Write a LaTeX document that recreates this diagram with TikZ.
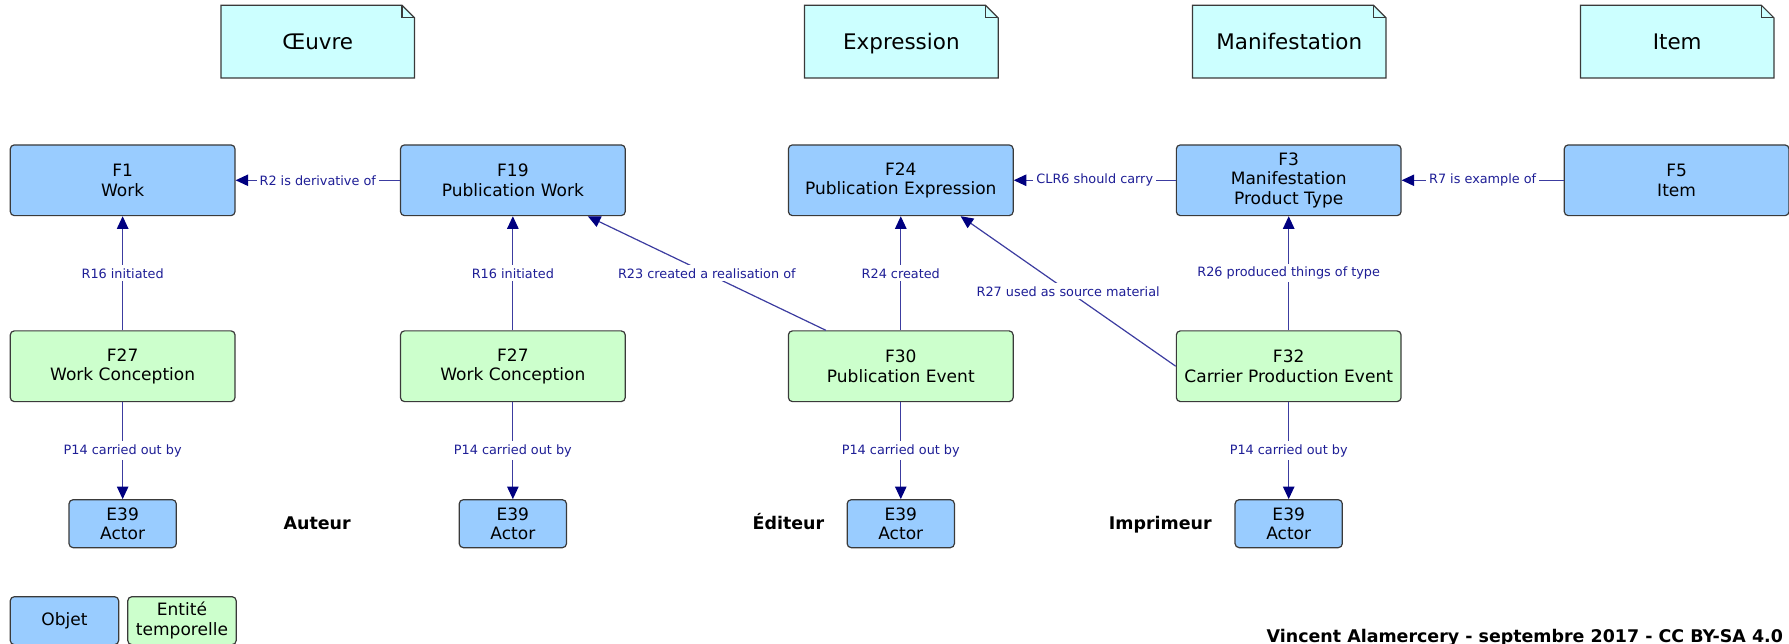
\documentclass[tikz,border=0pt]{standalone}
\usepackage{fontspec}
\setmainfont{DejaVu Sans}
\usetikzlibrary{arrows.meta,backgrounds}

\definecolor{objfill}{HTML}{99CCFF}
\definecolor{evtfill}{HTML}{CCFFCC}
\definecolor{notefill}{HTML}{CCFFFF}
\definecolor{boxline}{HTML}{3A3A3A}
\definecolor{linkline}{HTML}{3C3CA0}
\definecolor{linktip}{HTML}{000080}
\definecolor{linktext}{HTML}{1E1E96}

\tikzset{
  objbox/.style={draw=boxline, fill=objfill, rounded corners=2pt, line width=0.6pt,
    minimum width=3.94cm, minimum height=1.24cm, inner sep=0pt, align=center,
    font=\fontsize{8.5}{9.7}\selectfont},
  evtbox/.style={objbox, fill=evtfill},
  actorbox/.style={objbox, minimum width=1.88cm, minimum height=0.84cm},
  notebox/.style={minimum width=3.38cm, minimum height=1.26cm, inner sep=0pt,
    text height=0.85em, text depth=0.1em, font=\fontsize{10.7}{12}\selectfont},
  rolelabel/.style={inner sep=0pt, font=\bfseries\fontsize{8.7}{10}\selectfont},
  link/.style={draw=linkline, line width=0.6pt,
    -{Triangle[length=0.22cm,width=0.2cm,color=linktip]}},
  linklabel/.style={fill=white, text=linktext, inner sep=1.5pt,
    font=\fontsize{6.4}{7.5}\selectfont}
}

\begin{document}
\begin{tikzpicture}[x=0.02cm,y=-0.02cm]
  \useasboundingbox (0,0) rectangle (1568,564);

  % notes (groupes)
  \foreach \name/\cx/\txt in {oeuvre/278.5/Œuvre, expr/790/Expression, manif/1130/Manifestation, item/1470/Item}
  {
    \node[notebox] (\name) at (\cx,36.5) {\txt};
    \begin{scope}[on background layer]
      \filldraw[draw=boxline, fill=notefill, line width=0.6pt]
        (\name.north west) -- ([xshift=-0.22cm]\name.north east)
        -- ([yshift=-0.22cm]\name.north east) -- (\name.south east)
        -- (\name.south west) -- cycle;
      \draw[draw=boxline, line width=0.6pt]
        ([xshift=-0.22cm]\name.north east) -- ([xshift=-0.22cm,yshift=-0.22cm]\name.north east)
        -- ([yshift=-0.22cm]\name.north east);
    \end{scope}
  }

  % objets
  \node[objbox] (f1) at (107.5,158) {F1\\Work};
  \node[objbox] (f19) at (449.5,158) {F19\\Publication Work};
  \node[objbox] (f24) at (789.5,158) {F24\\Publication Expression};
  \node[objbox] (f3) at (1129.5,158) {F3\\Manifestation\\Product Type};
  \node[objbox] (f5) at (1469.5,158) {F5\\Item};

  % evenements
  \node[evtbox] (f27a) at (107.5,321) {F27\\Work Conception};
  \node[evtbox] (f27b) at (449.5,321) {F27\\Work Conception};
  \node[evtbox] (f30) at (789.5,321) {F30\\Publication Event};
  \node[evtbox] (f32) at (1129.5,321) {F32\\Carrier Production Event};

  % acteurs
  \node[actorbox] (e39a) at (107.5,459) {E39\\Actor};
  \node[actorbox] (e39b) at (449.5,459) {E39\\Actor};
  \node[actorbox] (e39c) at (789.5,459) {E39\\Actor};
  \node[actorbox] (e39d) at (1129.5,459) {E39\\Actor};

  \node[rolelabel, anchor=base] (auteur) at (278,464.5) {Auteur};
  \node[rolelabel, anchor=base] (editeur) at (691,464.5) {Éditeur};
  \node[rolelabel, anchor=base] (imprimeur) at (1017,464.5) {Imprimeur};

  % liens
  \draw[link] (f19) -- node[linklabel] {R2 is derivative of} (f1);
  \draw[link] (f3) -- node[linklabel] {CLR6 should carry} (f24);
  \draw[link] (f5) -- node[linklabel] {R7 is example of} (f3);
  \draw[link] (f27a) -- node[linklabel] {R16 initiated} (f1);
  \draw[link] (f27b) -- node[linklabel] {R16 initiated} (f19);
  \draw[link] (f30) -- node[linklabel] {R23 created a realisation of} (f19);
  \draw[link] (f30) -- node[linklabel] {R24 created} (f24);
  \draw[link] (f32.west) -- node[linklabel] {R27 used as source material} (f24.-31);
  \draw[link] (f32) -- node[linklabel] {R26 produced things of type} (f3);
  \foreach \evt/\act in {f27a/e39a, f27b/e39b, f30/e39c, f32/e39d}
    \draw[link] (\evt) -- node[linklabel] {P14 carried out by} (\act);

  % legende
  \node[actorbox, minimum width=1.9cm] (objet) at (56.5,544) {Objet};
  \node[actorbox, fill=evtfill, minimum width=1.9cm] (entite) at (159.5,544) {Entité\\temporelle};

  \node[rolelabel, anchor=base east] (credit) at (1563,563) {Vincent Alamercery - septembre 2017 - CC BY-SA 4.0};
\end{tikzpicture}
\end{document}
